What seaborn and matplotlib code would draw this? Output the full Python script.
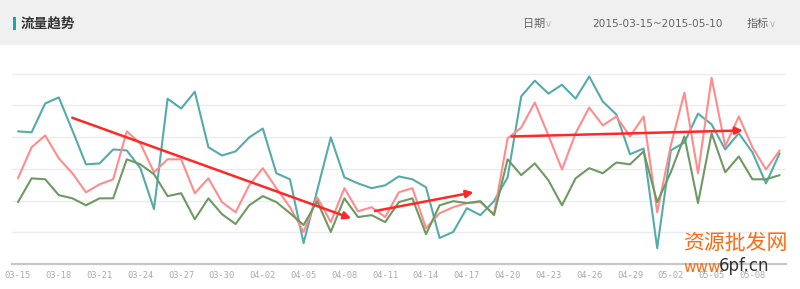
import numpy as np
import pandas as pd
import matplotlib
matplotlib.use("Agg")
import matplotlib.pyplot as plt
from matplotlib.patches import Rectangle
import seaborn as sns

# ---------------- data ----------------
dates = pd.date_range("2015-03-15", "2015-05-10", freq="D")
teal = [418, 415, 506, 525, 421, 314, 317, 361, 358, 302,
        173, 521, 490, 543, 368, 342, 355, 399, 427, 286,
        267, 66, 232, 399, 273, 254, 239, 248, 276, 267,
        242, 82, 101, 176, 154, 198, 273, 528, 578, 537,
        565, 521, 591, 512, 471, 346, 364, 50, 358, 383,
        474, 440, 361, 412, 352, 254, 349]
salmon = [270, 368, 405, 333, 286, 226, 251, 267, 418, 380,
          289, 330, 330, 223, 270, 195, 163, 248, 302, 239,
          179, 101, 210, 132, 239, 166, 179, 148, 226, 239,
          113, 160, 179, 192, 195, 157, 396, 430, 509, 405,
          298, 412, 493, 437, 465, 402, 465, 163, 374, 540,
          286, 587, 371, 465, 368, 298, 358]
green = [195, 270, 267, 217, 207, 185, 207, 207, 330, 314,
         283, 214, 223, 141, 207, 157, 126, 185, 214, 195,
         160, 123, 198, 101, 207, 148, 154, 132, 195, 207,
         94, 185, 198, 192, 198, 154, 330, 280, 317, 264,
         185, 270, 302, 286, 320, 314, 355, 195, 289, 402,
         192, 412, 289, 339, 267, 267, 280]
series_names = ["A", "B", "C"]
colors = ["#55abaa", "#ff8c8c", "#6e9962"]
tick_labels = ["03-15", "03-18", "03-21", "03-24", "03-27", "03-30", "04-02",
               "04-05", "04-08", "04-11", "04-14", "04-17", "04-20", "04-23",
               "04-26", "04-29", "05-02", "05-05", "05-08"]

# arrow annotations (day index, value)
arrows = [((3.99, 461), (24.5, 144)),
          ((26.25, 167), (33.5, 226)),
          ((36.3, 402), (53.3, 421))]

n = len(dates)
df = pd.DataFrame({
    "day": np.tile(np.arange(n), 3),
    "value": teal + salmon + green,
    "series": np.repeat(series_names, n),
})

sns.set_theme(style="white")
plt.rcParams["font.family"] = ["Noto Sans CJK SC", "DejaVu Sans"]

fig = plt.figure(figsize=(8.0, 2.89), dpi=100)
W, H = 800, 289

# header band
fig.patches.append(Rectangle((0, 1 - 45 / H), 1, 45 / H, transform=fig.transFigure,
                             facecolor="#f0f0f0", edgecolor="none", zorder=0))
fig.patches.append(Rectangle((13 / W, 1 - 30 / H), 3 / W, 13 / H, transform=fig.transFigure,
                             facecolor="#19a7b5", edgecolor="none", zorder=1))
fig.text(21 / W, 1 - 24 / H, "流量趋势", fontsize=9.8, fontweight="bold",
         color="#333333", va="center", ha="left")
fig.text(523 / W, 1 - 24 / H, "日期", fontsize=8, color="#666666", va="center", ha="left")
fig.text(545 / W, 1 - 24 / H, "∨", fontsize=7, color="#bbbbbb", va="center", ha="left",
         family="DejaVu Sans")
fig.text(592 / W, 1 - 24 / H, "2015-03-15~2015-05-10", fontsize=7.6, color="#666666",
         va="center", ha="left", family="DejaVu Sans")
fig.text(747 / W, 1 - 24 / H, "指标", fontsize=8, color="#666666", va="center", ha="left")
fig.text(769 / W, 1 - 24 / H, "∨", fontsize=7, color="#bbbbbb", va="center", ha="left",
         family="DejaVu Sans")

ax = fig.add_axes([12 / W, 1 - 264 / H, 774 / W, 191 / H])
sns.lineplot(data=df, x="day", y="value", hue="series", palette=colors,
             linewidth=1.5, legend=False, ax=ax)

ax.set_xlim(-0.44, 56.47)
ax.set_ylim(0, 602)
ax.set_yticks([100, 200, 300, 400, 500, 600])
ax.yaxis.grid(True, color="#ececec", linewidth=1)
ax.xaxis.grid(False)
ax.set_yticklabels([])
ax.tick_params(axis="y", length=0)
ax.set_xticks(np.arange(0, n, 3))
ax.set_xticklabels(tick_labels, family="DejaVu Sans Mono", fontsize=6.3, color="#aaaaaa")
ax.tick_params(axis="x", length=0, pad=5)
ax.set_xlabel("")
ax.set_ylabel("")
for s in ["top", "right", "left"]:
    ax.spines[s].set_visible(False)
ax.spines["bottom"].set_color("#c8c8c8")
ax.spines["bottom"].set_linewidth(1.6)
ax.set_facecolor("white")

for (x0, y0), (x1, y1) in arrows:
    ax.annotate("", xy=(x1, y1), xytext=(x0, y0),
                arrowprops=dict(arrowstyle="-|>", color="#ff2828", lw=1.8,
                                mutation_scale=11, shrinkA=0, shrinkB=0))

# watermark
fig.text(683 / W, 1 - 243 / H, "资源批发网", fontsize=15, color="#ff6a10",
         va="center", ha="left")
fig.text(683 / W, 1 - 267 / H, "www.", fontsize=11, color="#ff6a10",
         va="center", ha="left", family="DejaVu Sans")
fig.text(719 / W, 1 - 266 / H, "6pf.cn", fontsize=12, color="#333333",
         va="center", ha="left", family="DejaVu Sans")

fig.savefig("out.png", dpi=100)
